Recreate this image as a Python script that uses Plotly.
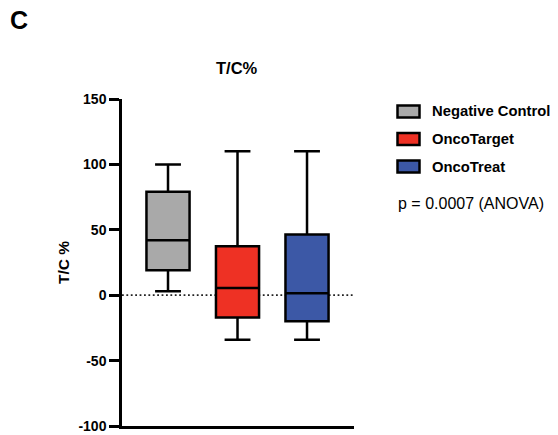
import plotly.graph_objects as go

groups = ["Negative Control", "OncoTarget", "OncoTreat"]
colors = ["#a9a9a9", "#ee3124", "#3c58a6"]
q1 = [19, -17, -20]
median = [42, 5.5, 1.5]
q3 = [79, 37.5, 46.5]
lower = [3, -34, -34]
upper = [100, 110, 110]
y_ticks = [-100, -50, 0, 50, 100, 150]
p_text = "p = 0.0007 (ANOVA)"

W, H = 558, 435
# plot area in page pixels (from reference)
L, R, T, B = 122, 354, 99, 426

def px_x(x):
    return (x - L) / (R - L)

def px_y(y):
    return (B - y) / (B - T)

FONT = "Liberation Sans"

fig = go.Figure()
for i, g in enumerate(groups):
    fig.add_trace(go.Box(
        x=[i], q1=[q1[i]], median=[median[i]], q3=[q3[i]],
        lowerfence=[lower[i]], upperfence=[upper[i]],
        name=g, fillcolor=colors[i],
        line=dict(color="black", width=2.5),
        width=0.62, whiskerwidth=0.6, boxpoints=False,
        showlegend=False, hoverinfo="skip",
    ))

shapes = [dict(type="line", xref="x domain", yref="y", x0=0, x1=1, y0=0, y1=0,
               line=dict(color="#222", width=1.8, dash="1.8px,2.6px"), layer="below")]
annotations = []
row_y = [111.5, 139, 166.5]
for i, g in enumerate(groups):
    cy = row_y[i]
    shapes.append(dict(type="rect", xref="paper", yref="paper",
                       x0=px_x(397.5), x1=px_x(419.5), y0=px_y(cy + 6), y1=px_y(cy - 6),
                       fillcolor=colors[i], line=dict(color="black", width=2.5)))
    annotations.append(dict(xref="paper", yref="paper", x=px_x(430), y=px_y(cy),
                            xanchor="left", yanchor="middle", showarrow=False,
                            text="<b>%s</b>" % g,
                            font=dict(family=FONT, size=14.8, color="black")))
annotations.append(dict(xref="paper", yref="paper", x=px_x(396), y=px_y(203),
                        xanchor="left", yanchor="middle", showarrow=False, text=p_text,
                        font=dict(family=FONT, size=16, color="black")))
annotations.append(dict(xref="paper", yref="paper", x=px_x(8), y=px_y(20),
                        xanchor="left", yanchor="middle", showarrow=False, text="<b>C</b>",
                        font=dict(family=FONT, size=25, color="black")))
annotations.append(dict(xref="paper", yref="paper", x=px_x(237), y=px_y(68),
                        xanchor="center", yanchor="middle", showarrow=False, text="<b>T/C%</b>",
                        font=dict(family=FONT, size=16.5, color="black")))

# initial size fits inside the default 8px body margin; the post script removes
# the margin and grows the figure to the full window
fig.update_layout(
    width=W - 16, height=H - 16,
    margin=dict(l=L, r=W - R, t=T, b=H - B, pad=0, autoexpand=False),
    paper_bgcolor="white", plot_bgcolor="white",
    font=dict(family=FONT, color="black"),
    shapes=shapes, annotations=annotations,
    xaxis=dict(range=[-0.662, 2.676], showticklabels=False, ticks="", showgrid=False,
               zeroline=False, showline=True, linecolor="black", linewidth=2.5,
               automargin=False),
    yaxis=dict(range=[-100, 150], tickvals=y_ticks,
               ticktext=["<b>%d</b>" % v for v in y_ticks],
               ticks="outside", ticklen=10, tickwidth=2.5, tickcolor="black",
               tickfont=dict(family=FONT, size=14, color="black"),
               ticklabeloverflow="allow", automargin=False,
               showgrid=False, zeroline=False, showline=True, linecolor="black", linewidth=2.5,
               title=dict(text="<b>T/C %</b>", font=dict(family=FONT, size=15.5), standoff=5)),
)
post = ("document.body.style.margin='0';"
        "var gd=document.getElementById('{plot_id}');"
        "Plotly.relayout(gd, {width: %d, height: %d});" % (W, H))
fig.write_html("out.html", config={"displayModeBar": False}, post_script=post)
